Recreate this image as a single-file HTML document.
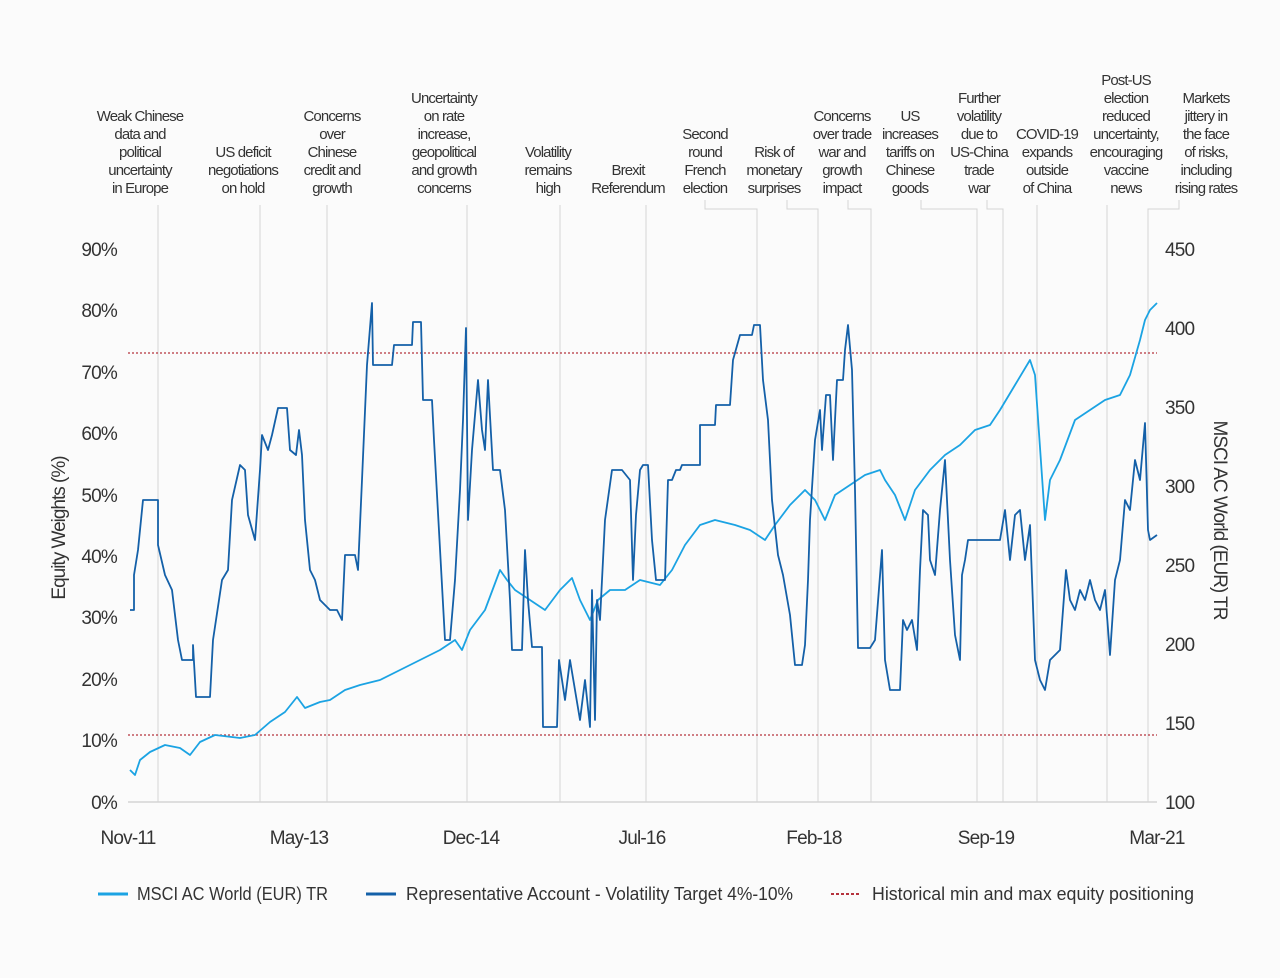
<!DOCTYPE html>
<html><head><meta charset="utf-8"><style>
html,body{margin:0;padding:0;background:#fbfbfb;}
svg{display:block;}
text{font-family:"Liberation Sans Narrow","Liberation Sans",sans-serif;fill:#333;}
.ann text{letter-spacing:-0.9px;}
</style></head><body>
<svg width="1280" height="978" viewBox="0 0 1280 978" xmlns="http://www.w3.org/2000/svg">
<rect width="1280" height="978" fill="#fbfbfb"/>
<g stroke="#d4d4d4" stroke-width="1" fill="none">
<line x1="158" y1="205" x2="158" y2="802"/>
<line x1="260" y1="205" x2="260" y2="802"/>
<line x1="327" y1="205" x2="327" y2="802"/>
<line x1="467" y1="205" x2="467" y2="802"/>
<line x1="560" y1="205" x2="560" y2="802"/>
<line x1="646" y1="205" x2="646" y2="802"/>
<polyline points="705,200 705,209 757,209 757,802"/>
<polyline points="787,200 787,209 818,209 818,802"/>
<polyline points="848,200 848,209 871,209 871,802"/>
<polyline points="921,200 921,209 977,209 977,802"/>
<polyline points="987,200 987,209 1003,209 1003,802"/>
<line x1="1037" y1="205" x2="1037" y2="802"/>
<line x1="1107" y1="205" x2="1107" y2="802"/>
<polyline points="1179,200 1179,209 1148,209 1148,802"/>
<line x1="128" y1="802" x2="1157" y2="802" stroke-width="1.5"/>
</g>
<g class="ann" font-size="15" text-anchor="middle">
<text x="140" y="121">Weak Chinese</text><text x="140" y="139">data and</text><text x="140" y="157">political</text><text x="140" y="175">uncertainty</text><text x="140" y="193">in Europe</text>
<text x="243" y="157">US deficit</text><text x="243" y="175">negotiations</text><text x="243" y="193">on hold</text>
<text x="332" y="121">Concerns</text><text x="332" y="139">over</text><text x="332" y="157">Chinese</text><text x="332" y="175">credit and</text><text x="332" y="193">growth</text>
<text x="444" y="103">Uncertainty</text><text x="444" y="121">on rate</text><text x="444" y="139">increase,</text><text x="444" y="157">geopolitical</text><text x="444" y="175">and growth</text><text x="444" y="193">concerns</text>
<text x="548" y="157">Volatility</text><text x="548" y="175">remains</text><text x="548" y="193">high</text>
<text x="628" y="175">Brexit</text><text x="628" y="193">Referendum</text>
<text x="705" y="139">Second</text><text x="705" y="157">round</text><text x="705" y="175">French</text><text x="705" y="193">election</text>
<text x="774" y="157">Risk of</text><text x="774" y="175">monetary</text><text x="774" y="193">surprises</text>
<text x="842" y="121">Concerns</text><text x="842" y="139">over trade</text><text x="842" y="157">war and</text><text x="842" y="175">growth</text><text x="842" y="193">impact</text>
<text x="910" y="121">US</text><text x="910" y="139">increases</text><text x="910" y="157">tariffs on</text><text x="910" y="175">Chinese</text><text x="910" y="193">goods</text>
<text x="979" y="103">Further</text><text x="979" y="121">volatility</text><text x="979" y="139">due to</text><text x="979" y="157">US-China</text><text x="979" y="175">trade</text><text x="979" y="193">war</text>
<text x="1047" y="139">COVID-19</text><text x="1047" y="157">expands</text><text x="1047" y="175">outside</text><text x="1047" y="193">of China</text>
<text x="1126" y="85">Post-US</text><text x="1126" y="103">election</text><text x="1126" y="121">reduced</text><text x="1126" y="139">uncertainty,</text><text x="1126" y="157">encouraging</text><text x="1126" y="175">vaccine</text><text x="1126" y="193">news</text>
<text x="1206" y="103">Markets</text><text x="1206" y="121">jittery in</text><text x="1206" y="139">the face</text><text x="1206" y="157">of risks,</text><text x="1206" y="175">including</text><text x="1206" y="193">rising rates</text>
</g>
<g font-size="19" text-anchor="end" letter-spacing="-0.8">
<text x="117" y="256">90%</text><text x="117" y="317">80%</text><text x="117" y="379">70%</text><text x="117" y="440">60%</text><text x="117" y="502">50%</text><text x="117" y="563">40%</text><text x="117" y="624">30%</text><text x="117" y="686">20%</text><text x="117" y="747">10%</text><text x="117" y="809">0%</text>
</g>
<g font-size="19" text-anchor="start" letter-spacing="-0.8">
<text x="1165" y="256">450</text><text x="1165" y="335">400</text><text x="1165" y="414">350</text><text x="1165" y="493">300</text><text x="1165" y="572">250</text><text x="1165" y="651">200</text><text x="1165" y="730">150</text><text x="1165" y="809">100</text>
</g>
<g font-size="19" text-anchor="middle" letter-spacing="-0.8">
<text x="128" y="844">Nov-11</text><text x="299" y="844">May-13</text><text x="471" y="844">Dec-14</text><text x="642" y="844">Jul-16</text><text x="814" y="844">Feb-18</text><text x="986" y="844">Sep-19</text><text x="1157" y="844">Mar-21</text>
</g>
<text font-size="19" text-anchor="middle" letter-spacing="-1" transform="translate(65,528) rotate(-90)">Equity Weights (%)</text>
<text font-size="19" text-anchor="middle" letter-spacing="-1" transform="translate(1214,520) rotate(90)">MSCI AC World (EUR) TR</text>
<g stroke="#b5333d" stroke-width="1.3" stroke-dasharray="2,2">
<line x1="128" y1="353" x2="1157" y2="353"/>
<line x1="128" y1="735" x2="1157" y2="735"/>
</g>
<polyline fill="none" stroke="#1ba3e3" stroke-width="1.8" stroke-linejoin="round" points="130,770 135,775 140,760 150,752 165,745 180,748 190,755 200,742 215,735 240,738 255,735 270,722 285,712 297,697 305,708 320,702 330,700 345,690 360,685 380,680 400,670 420,660 440,650 455,640 462,650 470,630 485,610 500,570 507,580 515,590 530,600 545,610 560,590 572,578 580,600 590,620 598,600 610,590 625,590 640,580 660,585 672,570 685,545 700,525 715,520 735,525 750,530 765,540 775,525 790,505 805,490 815,500 825,520 835,495 850,485 865,475 880,470 885,480 895,495 905,520 915,490 930,470 945,455 960,445 975,430 990,425 1000,410 1015,385 1030,360 1035,375 1045,520 1050,480 1060,460 1075,420 1090,410 1105,400 1120,395 1130,375 1140,340 1145,320 1150,310 1157,303"/>
<polyline fill="none" stroke="#1460a8" stroke-width="1.8" stroke-linejoin="round" points="130,610 134,610 134,575 138,550 143,500 158,500 158,545 165,575 172,590 178,640 182,660 193,660 193,645 196,697 210,697 213,640 222,580 228,570 232,500 240,465 245,470 248,515 255,540 260,470 262,435 268,450 272,435 278,408 287,408 290,450 296,455 299,430 302,455 305,520 310,570 315,580 320,600 330,610 337,610 342,620 345,555 355,555 358,570 362,480 367,365 372,303 373,365 392,365 394,345 412,345 413,322 421,322 423,400 432,400 434,440 445,640 450,640 455,580 460,490 463,420 466,328 467,420 468,520 472,450 478,380 482,430 485,450 488,380 493,470 500,470 505,510 510,600 512,650 522,650 525,550 528,600 532,647 542,647 543,727 557,727 559,660 565,700 570,660 575,690 580,720 585,680 590,727 592,590 595,720 597,600 600,620 605,520 612,470 622,470 630,480 633,580 636,515 640,470 643,465 648,465 652,540 656,580 665,580 668,480 672,480 676,470 680,470 682,465 700,465 700,425 715,425 716,405 730,405 733,360 740,335 752,335 754,325 760,325 763,380 768,420 772,500 778,555 783,575 790,615 795,665 802,665 805,645 808,580 810,520 815,440 820,410 822,450 826,395 830,395 833,460 837,380 843,380 845,350 848,325 852,370 855,490 858,648 870,648 875,640 882,550 885,660 890,690 900,690 903,620 907,630 912,620 917,650 920,570 923,510 928,515 930,560 935,575 940,510 945,460 950,560 955,635 960,660 962,575 965,560 968,540 1000,540 1005,510 1010,560 1015,515 1020,510 1025,560 1030,525 1035,660 1040,680 1045,690 1050,660 1060,650 1066,570 1070,600 1075,610 1080,590 1085,600 1090,580 1095,600 1100,610 1105,590 1110,655 1115,580 1120,560 1125,500 1130,510 1135,460 1140,480 1145,423 1148,530 1150,540 1157,535"/>
<line x1="98" y1="894" x2="128" y2="894" stroke="#1ba3e3" stroke-width="3"/>
<text x="137" y="900" font-size="18" textLength="191" lengthAdjust="spacingAndGlyphs">MSCI AC World (EUR) TR</text>
<line x1="366" y1="894" x2="396" y2="894" stroke="#1460a8" stroke-width="3"/>
<text x="406" y="900" font-size="18" textLength="387" lengthAdjust="spacingAndGlyphs">Representative Account - Volatility Target 4%-10%</text>
<line x1="831" y1="894" x2="861" y2="894" stroke="#b5333d" stroke-width="2" stroke-dasharray="3,2"/>
<text x="872" y="900" font-size="18" textLength="322" lengthAdjust="spacingAndGlyphs">Historical min and max equity positioning</text>
</svg>
</body></html>
